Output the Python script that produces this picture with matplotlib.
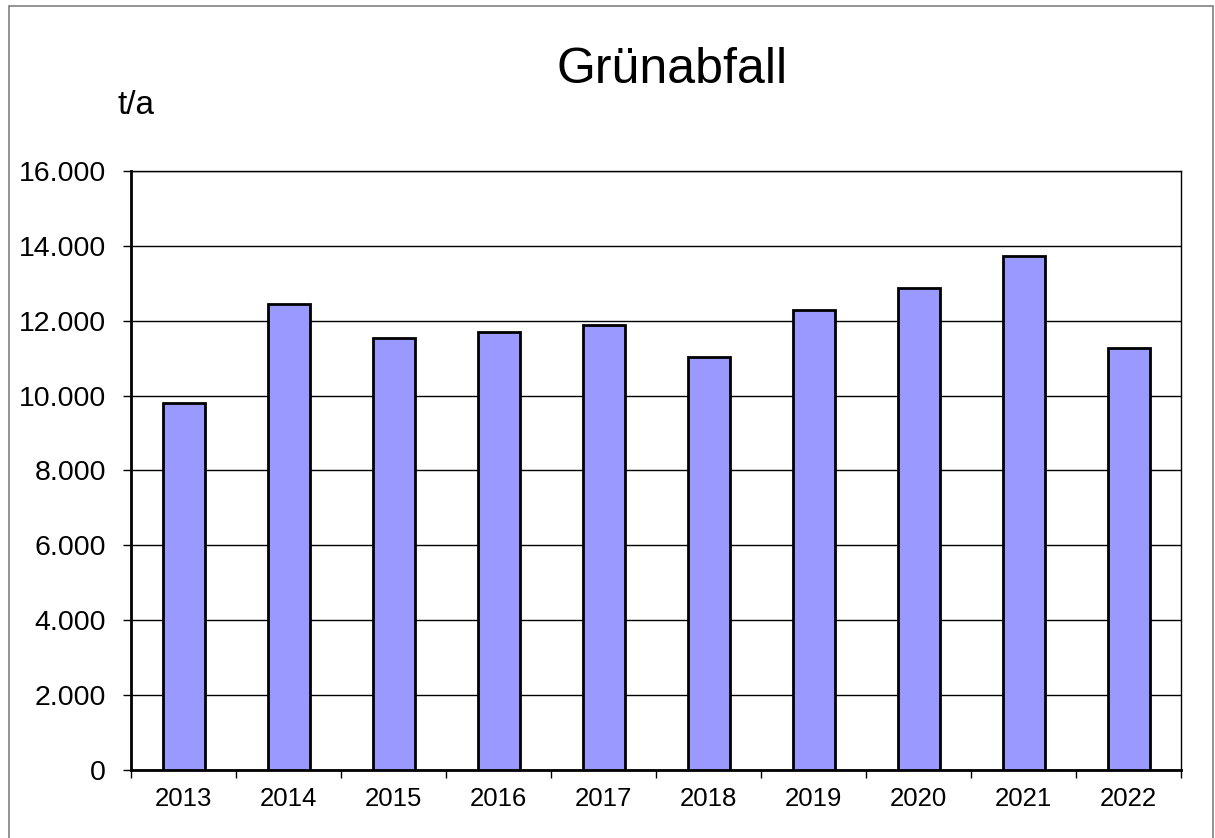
import matplotlib
matplotlib.use("Agg")
import matplotlib.pyplot as plt
from matplotlib.patches import Rectangle
from matplotlib.ticker import FuncFormatter, MultipleLocator

plt.rcParams['font.family'] = ['Liberation Sans', 'DejaVu Sans']

years = ["2013", "2014", "2015", "2016", "2017", "2018", "2019", "2020", "2021", "2022"]
tonnes = [9790, 12450, 11550, 11710, 11880, 11040, 12280, 12870, 13720, 11280]

W, H = 1215, 838
fig = plt.figure(figsize=(W / 100, H / 100), dpi=100)
ax = fig.add_axes([131 / W, 1 - 770 / H, (1181 - 131) / W, (770 - 171) / H])

x = list(range(len(years)))
ax.bar(x, tonnes, width=0.4, color='#9999ff', edgecolor='black', linewidth=2, zorder=3)

ax.set_xlim(-0.5, len(years) - 0.5)
ax.set_ylim(0, 16000)
ax.yaxis.set_major_locator(MultipleLocator(2000))
ax.yaxis.set_major_formatter(FuncFormatter(lambda v, p: f"{int(v):,}".replace(",", ".")))
ax.grid(axis='y', color='black', linewidth=1, zorder=0)

ax.set_xticks(x)
ax.set_xticklabels(years, fontsize=18.5)
ax.tick_params(axis='x', length=0, pad=12)
ax.set_xticks([i - 0.5 for i in range(len(years) + 1)], minor=True)
ax.tick_params(axis='x', which='minor', length=6, width=1, direction='out')
ax.tick_params(axis='y', labelsize=20.5, length=6, width=1, direction='out', pad=12)

for side in ['left', 'bottom']:
    ax.spines[side].set_linewidth(2)
for side in ['top', 'right']:
    ax.spines[side].set_linewidth(1)

fig.text(672 / W, 1 - 70 / H, "Grünabfall", fontsize=36, ha='center', va='center')
fig.text(136 / W, 1 - 106 / H, "t/a", fontsize=24, ha='center', va='center')

fig.patches.append(Rectangle((9 / W, -0.01), (1213 - 9) / W, 1 - 6 / H + 0.01,
                             transform=fig.transFigure, fill=False,
                             edgecolor='#808080', linewidth=1.2))

fig.savefig("out.png", dpi=100)
